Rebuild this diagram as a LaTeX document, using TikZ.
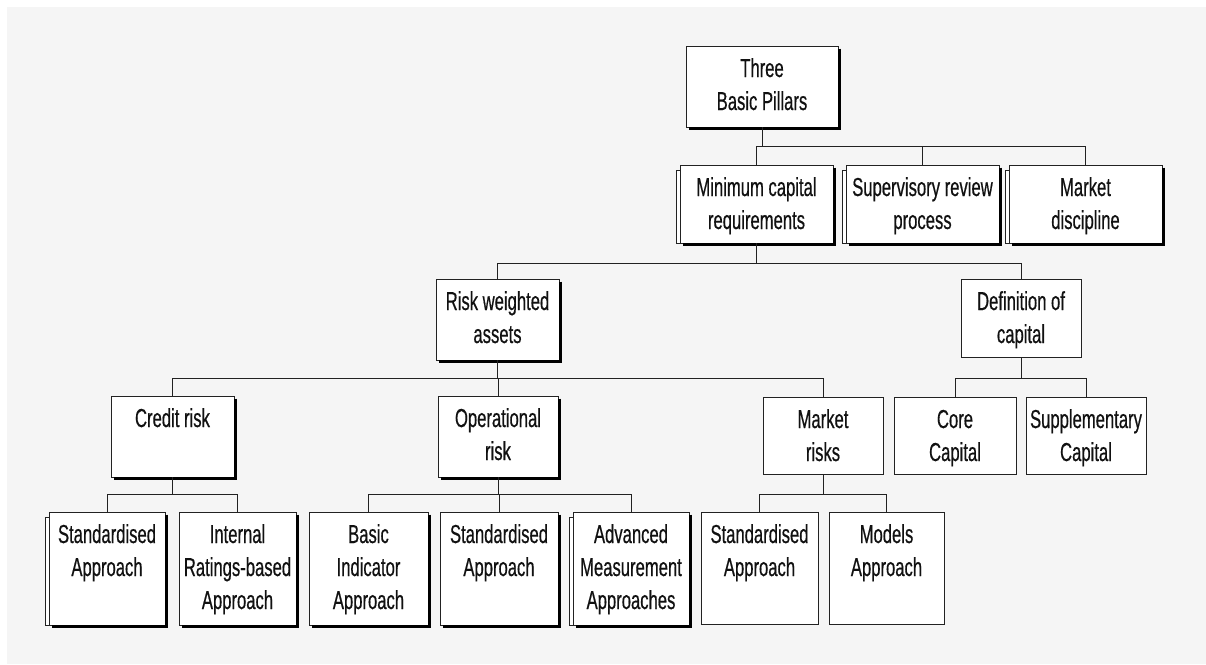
\documentclass[tikz,border=0pt]{standalone}
\usepackage{fontspec}
\setmainfont{Liberation Sans}[FakeStretch=0.64,FakeBold=0.5]
\usetikzlibrary{calc}
\pgfdeclarelayer{bg}
\pgfdeclarelayer{back}
\pgfsetlayers{bg,back,main}
\definecolor{pagegray}{HTML}{F5F5F5}
\definecolor{ln}{HTML}{222222}
\definecolor{txt}{HTML}{111111}
\tikzset{
  thinline/.style={draw=ln, line width=1pt},
  plainbox/.style={rectangle, thinline, fill=white, inner sep=0pt, outer sep=0pt, text=txt},
  shbox/.style={plainbox},
  shadowline/.style={draw=black, line width=2.6pt},
  conn/.style={draw=ln, line width=1pt},
}
% #1 style, #2 name, #3 x1, #4 y1, #5 x2, #6 y2, #7 text
\newcommand\mybox[7]{%
  \pgfmathsetmacro\bw{#5-#3}\pgfmathsetmacro\bh{#6-#4}%
  \node[#1, minimum width=\bw pt, minimum height=\bh pt] (#2) at ({(#3+#5)/2},{(#4+#6)/2})
    {\begin{minipage}[c][\bh pt][t]{\bw pt}\centering\fontsize{26}{33}\selectfont\rule{0pt}{31pt}#7\end{minipage}};}
\newcommand\stackback[1]{%
  \begin{pgfonlayer}{back}
    \draw[thinline, fill=white] ($(#1.north west)+(-4,5)$) rectangle ($(#1.south west)+(8,0)$);
  \end{pgfonlayer}}
\newcommand\shadowof[1]{%
  \draw[shadowline] ($(#1.north east)+(1.3,2.5)$) -- ($(#1.south east)+(1.3,1.3)$) -- ($(#1.south west)+(2.5,1.3)$);}
\begin{document}
\begin{tikzpicture}[x=1pt,y=-1pt]
\begin{pgfonlayer}{bg}
  \fill[white] (0,0) rectangle (1206,664);
  \fill[pagegray] (7,7) rectangle (1206,664);
\end{pgfonlayer}
\useasboundingbox (0,0) rectangle (1206,664);

% level 1
\mybox{shbox}{three}{686}{46}{838}{127}{Three\\Basic Pillars}
% level 2
\mybox{shbox}{mincap}{680}{165}{833}{243}{Minimum capital\\requirements}
\mybox{shbox}{super}{846}{165}{999}{243}{Supervisory review\\process}
\mybox{shbox}{mdisc}{1009}{165}{1162}{243}{Market\\discipline}
\stackback{mincap}\stackback{super}\stackback{mdisc}
% level 3
\mybox{shbox}{rwa}{436}{279}{559}{360}{Risk weighted\\assets}
\mybox{plainbox}{defcap}{961}{279}{1081}{357}{Definition of\\capital}
% level 4
\mybox{shbox}{credit}{111}{396}{234}{477}{Credit risk}
\mybox{shbox}{oper}{438}{396}{558}{477}{Operational\\risk}
\mybox{plainbox}{mrisk}{763}{397}{883}{474}{Market\\risks}
\mybox{plainbox}{core}{894}{397}{1016}{474}{Core\\Capital}
\mybox{plainbox}{supp}{1026}{397}{1146}{474}{Supplementary\\Capital}
% level 5
\mybox{shbox}{cstd}{49}{512}{165}{625}{Standardised\\Approach}
\mybox{shbox}{irb}{179}{512}{296}{625}{Internal\\Ratings-based\\Approach}
\mybox{shbox}{basic}{309}{512}{428}{625}{Basic\\Indicator\\Approach}
\mybox{shbox}{ostd}{440}{512}{558}{625}{Standardised\\Approach}
\mybox{shbox}{adv}{573}{512}{689}{625}{Advanced\\Measurement\\Approaches}
\mybox{plainbox}{mstd}{701}{512}{818}{624}{Standardised\\Approach}
\mybox{plainbox}{models}{829}{512}{944}{624}{Models\\Approach}
\stackback{cstd}\stackback{adv}

\foreach \n in {three,mincap,super,mdisc,rwa,credit,oper,cstd,irb,basic,ostd,adv}{\shadowof{\n}}

% bus levels
\coordinate (b1) at (0,146);
\coordinate (b2) at (0,263);
\coordinate (b3) at (0,378);
\coordinate (b4) at (0,494);

\foreach \c in {mincap,super,mdisc}
  \draw[conn] (three.south) -- (three.south |- b1) -| (\c.north);
\foreach \c in {rwa,defcap}
  \draw[conn] (mincap.south) -- (mincap.south |- b2) -| (\c.north);
\foreach \c in {credit,oper,mrisk}
  \draw[conn] (rwa.south) -- (rwa.south |- b3) -| (\c.north);
\foreach \c in {core,supp}
  \draw[conn] (defcap.south) -- (defcap.south |- b3) -| (\c.north);
\foreach \c in {cstd,irb}
  \draw[conn] (credit.south) -- (credit.south |- b4) -| (\c.north);
\foreach \c in {basic,ostd,adv}
  \draw[conn] (oper.south) -- (oper.south |- b4) -| (\c.north);
\foreach \c in {mstd,models}
  \draw[conn] (mrisk.south) -- (mrisk.south |- b4) -| (\c.north);
\end{tikzpicture}
\end{document}
